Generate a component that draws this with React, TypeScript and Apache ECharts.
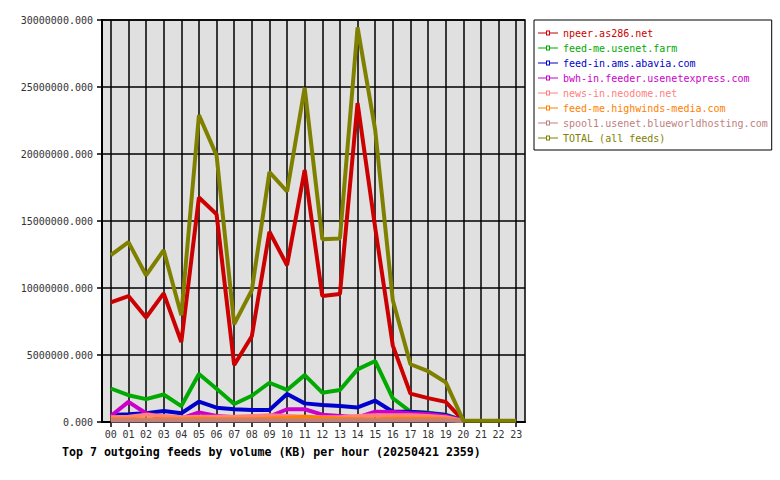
import React, { useEffect, useRef } from "react";
import * as echarts from "echarts";

// Hours (category axis)
const hours = ["00","01","02","03","04","05","06","07","08","09","10","11","12","13","14","15","16","17","18","19","20","21","22","23"];

// Values in millions of KB (scaled to KB when building the option)
const npeer = [8.92, 9.4, 7.8, 9.6, 5.97, 16.75, 15.5, 4.25, 6.4, 14.2, 11.7, 18.8, 9.4, 9.55, 23.8, 14.5, 5.7, 2.12, 1.78, 1.5, 0.1, null, null, null];
const feedMeUsenetFarm = [2.5, 2.0, 1.71, 2.05, 1.19, 3.58, 2.48, 1.34, 1.96, 2.93, 2.39, 3.5, 2.19, 2.39, 3.93, 4.55, 1.77, 0.77, 0.7, 0.55, 0.1, null, null, null];
const feedInAbavia = [0.52, 0.57, 0.65, 0.82, 0.65, 1.52, 1.07, 0.95, 0.9, 0.9, 2.09, 1.39, 1.27, 1.19, 1.09, 1.59, 0.77, 0.77, 0.65, 0.52, 0.1, null, null, null];
const bwhIn = [0.45, 1.5, 0.65, 0.27, 0.27, 0.72, 0.45, 0.35, 0.35, 0.4, 0.95, 0.95, 0.55, 0.45, 0.35, 0.77, 0.75, 0.65, 0.6, 0.45, 0.1, null, null, null];
const newsInNeodome = [0.35, 0.4, 0.55, 0.45, 0.35, 0.4, 0.4, 0.4, 0.45, 0.5, 0.45, 0.4, 0.35, 0.35, 0.45, 0.5, 0.5, 0.5, 0.45, 0.35, 0.1, null, null, null];
const feedMeHighwinds = [0.2, 0.2, 0.2, 0.2, 0.2, 0.25, 0.2, 0.2, 0.2, 0.25, 0.3, 0.4, 0.3, 0.25, 0.2, 0.2, 0.25, 0.25, 0.25, 0.2, 0.1, null, null, null];
const spool1 = [0.12, 0.12, 0.12, 0.12, 0.12, 0.12, 0.12, 0.12, 0.12, 0.12, 0.12, 0.12, 0.12, 0.12, 0.12, 0.12, 0.12, 0.12, 0.12, 0.12, 0.08, null, null, null];
const total = [12.45, 13.42, 10.95, 12.82, 7.97, 22.9, 19.9, 7.3, 9.83, 18.65, 17.2, 24.95, 13.64, 13.7, 29.45, 21.8, 9.09, 4.31, 3.79, 2.97, 0.1, 0.1, 0.1, 0.1];

const seriesNames = [
  "npeer.as286.net",
  "feed-me.usenet.farm",
  "feed-in.ams.abavia.com",
  "bwh-in.feeder.usenetexpress.com",
  "news-in.neodome.net",
  "feed-me.highwinds-media.com",
  "spool1.usenet.blueworldhosting.com",
  "TOTAL (all feeds)",
];
const seriesValues = [npeer, feedMeUsenetFarm, feedInAbavia, bwhIn, newsInNeodome, feedMeHighwinds, spool1, total];
const seriesColors = ["#cc0000", "#00aa00", "#0000cc", "#cc00cc", "#ff8080", "#ff8000", "#c08080", "#808000"];

const yMax = 30000000;
const yInterval = 5000000;
const titleText = "Top 7 outgoing feeds by volume (KB) per hour (20250421 2359)";

const MONO = "'DejaVu Sans Mono', 'Liberation Mono', monospace";

export default function App() {
  const ref = useRef<HTMLDivElement>(null);
  useEffect(() => {
    if (!ref.current) return;
    const chart = echarts.init(ref.current, null, { renderer: "svg" });
    const scale = 1000000;
    const option: any = {
      animation: false,
      backgroundColor: "#ffffff",
      title: {
        text: titleText,
        left: 62,
        top: 446,
        padding: 0,
        textStyle: { fontFamily: MONO, fontWeight: "bold", fontSize: 11.6, color: "#000" },
      },
      legend: {
        orient: "vertical",
        left: 534,
        top: 20,
        padding: [8, 4, 7, 4],
        itemGap: 5,
        itemWidth: 20,
        itemHeight: 7,
        borderColor: "#000",
        borderWidth: 1,
        backgroundColor: "#fff",
        icon: "path://M0,4H8V2H12V4H20V5H12V7H8V5H0Z M9,3V6H11V3Z",
        textStyle: { fontFamily: MONO, fontSize: 10, lineHeight: 10 },
        data: seriesNames.map((n, i) => ({ name: n, textStyle: { color: seriesColors[i] } })),
        selectedMode: false,
      },
      grid: {
        left: 102,
        right: 255,
        top: 20,
        bottom: 58,
        show: true,
        backgroundColor: "#e0e0e0",
        borderColor: "#000",
        borderWidth: 1.5,
      },
      xAxis: {
        type: "category",
        data: hours,
        boundaryGap: true,
        axisLine: { lineStyle: { color: "#000", width: 2 } },
        axisTick: { show: true, alignWithLabel: true, length: 5, lineStyle: { color: "#000", width: 1.5 } },
        axisLabel: { fontFamily: MONO, fontSize: 10, color: "#333", margin: 7 },
        splitLine: { show: true, alignWithLabel: true, lineStyle: { color: "#000", width: 1.5 } },
      },
      yAxis: {
        type: "value",
        min: 0,
        max: yMax,
        interval: yInterval,
        axisLine: { show: true, lineStyle: { color: "#000", width: 2 } },
        axisTick: { show: true, length: 5, lineStyle: { color: "#000", width: 1.5 } },
        axisLabel: {
          fontFamily: MONO,
          fontSize: 10,
          color: "#333",
          margin: 9,
          formatter: (v: number) => v.toFixed(3),
        },
        splitLine: { show: true, lineStyle: { color: "#000", width: 1.5 } },
      },
      series: seriesNames.map((n, i) => ({
        name: n,
        type: "line",
        data: seriesValues[i].map((v) => (v == null ? null : Math.round(v * scale))),
        showSymbol: false,
        symbol: "none",
        color: seriesColors[i],
        lineStyle: { width: 4, color: seriesColors[i] },
        z: 2 + i,
      })),
    };
    chart.setOption(option);
    return () => chart.dispose();
  }, []);
  return (
    <div
      ref={ref}
      style={{ position: "fixed", left: 0, top: 0, width: 780, height: 480, background: "#fff" }}
    />
  );
}
